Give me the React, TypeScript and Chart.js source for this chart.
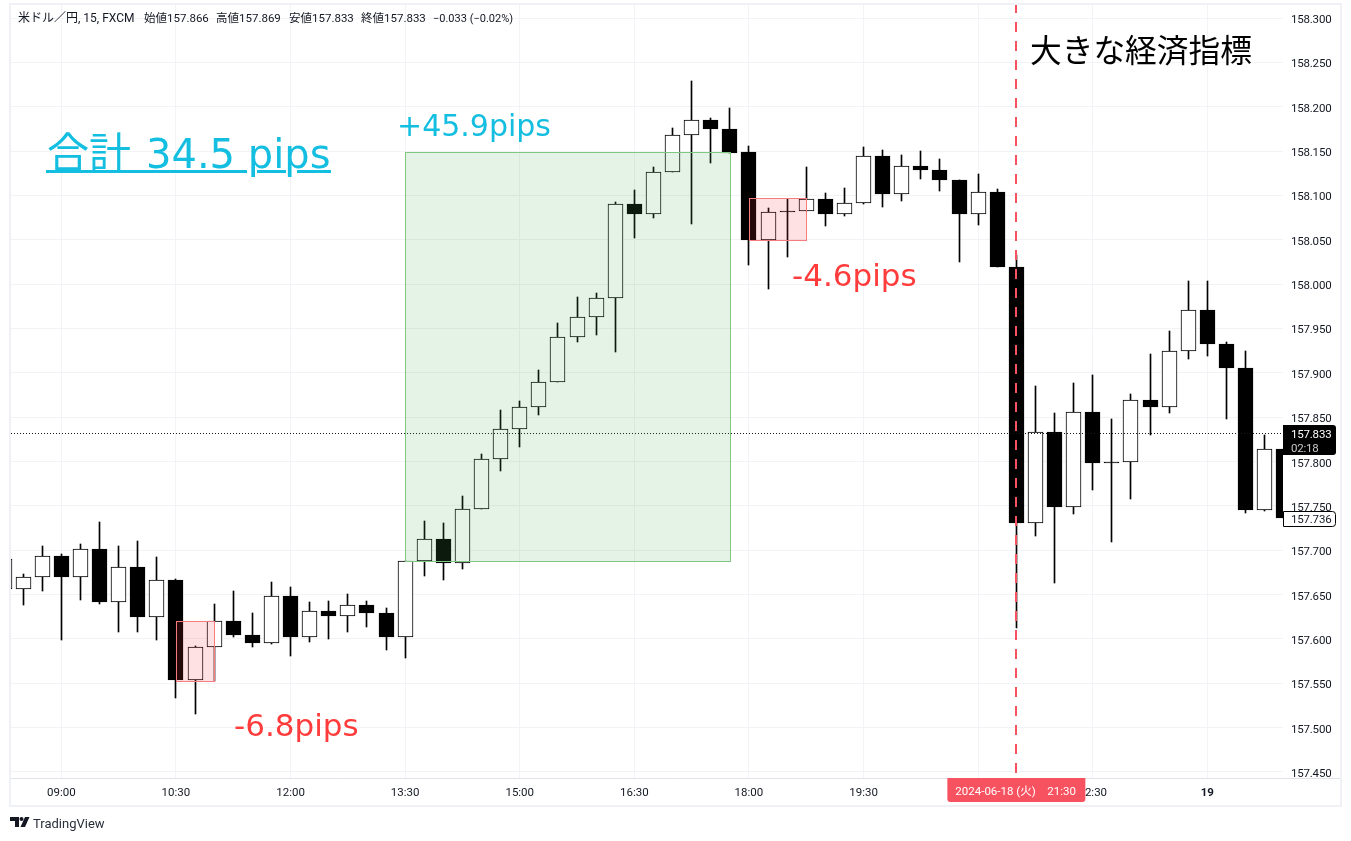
import { useEffect, useRef } from 'react';
import { Chart, registerables } from 'chart.js';

Chart.register(...registerables);

const barTimes = [
  '08:15', '08:30', '08:45', '09:00', '09:15', '09:30', '09:45', '10:00', '10:15', '10:30', '10:45', '11:00',
  '11:15', '11:30', '11:45', '12:00', '12:15', '12:30', '12:45', '13:00', '13:15', '13:30', '13:45', '14:00',
  '14:15', '14:30', '14:45', '15:00', '15:15', '15:30', '15:45', '16:00', '16:15', '16:30', '16:45', '17:00',
  '17:15', '17:30', '17:45', '18:00', '18:15', '18:30', '18:45', '19:00', '19:15', '19:30', '19:45', '20:00',
  '20:15', '20:30', '20:45', '21:00', '21:15', '21:30', '21:45', '22:00', '22:15', '22:30', '22:45', '23:00',
  '23:15', '23:30', '23:45', '00:00', '00:15', '00:30', '00:45', '01:00',
];

const opens = [
  157.656, 157.656, 157.670, 157.694, 157.670, 157.701, 157.642, 157.681, 157.625, 157.666, 157.554, 157.591,
  157.620, 157.604, 157.595, 157.648, 157.602, 157.632, 157.626, 157.638, 157.629, 157.602, 157.688, 157.713,
  157.686, 157.746, 157.803, 157.837, 157.861, 157.890, 157.940, 157.963, 157.984, 158.090, 158.079, 158.126,
  158.168, 158.185, 158.175, 158.149, 158.050, 158.082, 158.082, 158.096, 158.079, 158.092, 158.145, 158.102,
  158.133, 158.129, 158.117, 158.079, 158.104, 158.019, 157.731, 157.833, 157.749, 157.856, 157.799, 157.799,
  157.869, 157.861, 157.925, 157.971, 157.933, 157.906, 157.745, 157.814,
];
const highs = [
  157.696, 157.673, 157.705, 157.696, 157.707, 157.732, 157.705, 157.710, 157.692, 157.667, 157.592, 157.639,
  157.654, 157.629, 157.664, 157.659, 157.642, 157.643, 157.651, 157.643, 157.635, 157.688, 157.733, 157.731,
  157.761, 157.809, 157.858, 157.868, 157.903, 157.956, 157.986, 157.990, 158.093, 158.106, 158.132, 158.176,
  158.229, 158.187, 158.199, 158.156, 158.086, 158.096, 158.132, 158.103, 158.108, 158.155, 158.151, 158.146,
  158.150, 158.141, 158.117, 158.124, 158.107, 158.033, 157.885, 157.855, 157.889, 157.898, 157.848, 157.876,
  157.921, 157.947, 158.004, 158.004, 157.935, 157.925, 157.830, 157.814,
];
const lows = [
  157.650, 157.638, 157.654, 157.599, 157.644, 157.639, 157.608, 157.608, 157.599, 157.533, 157.515, 157.552,
  157.602, 157.591, 157.594, 157.581, 157.596, 157.600, 157.608, 157.614, 157.588, 157.579, 157.671, 157.666,
  157.679, 157.746, 157.789, 157.816, 157.853, 157.890, 157.935, 157.943, 157.924, 158.052, 158.075, 158.126,
  158.068, 158.137, 158.148, 158.022, 157.995, 158.031, 158.082, 158.066, 158.077, 158.090, 158.087, 158.094,
  158.119, 158.105, 158.025, 158.067, 158.019, 157.612, 157.716, 157.663, 157.741, 157.768, 157.709, 157.758,
  157.830, 157.855, 157.916, 157.919, 157.848, 157.742, 157.744, 157.736,
];
const closes = [
  157.690, 157.670, 157.694, 157.670, 157.701, 157.642, 157.681, 157.625, 157.666, 157.554, 157.591, 157.620,
  157.604, 157.595, 157.648, 157.602, 157.632, 157.626, 157.638, 157.629, 157.602, 157.688, 157.713, 157.686,
  157.746, 157.803, 157.837, 157.861, 157.890, 157.940, 157.963, 157.984, 158.090, 158.079, 158.126, 158.168,
  158.185, 158.175, 158.148, 158.050, 158.081, 158.082, 158.096, 158.079, 158.092, 158.145, 158.102, 158.133,
  158.129, 158.117, 158.079, 158.104, 158.019, 157.731, 157.833, 157.749, 157.856, 157.798, 157.799, 157.869,
  157.861, 157.925, 157.971, 157.933, 157.906, 157.745, 157.814, 157.736,
];

const priceTicks = [
  157.45, 157.5, 157.55, 157.6, 157.65, 157.7, 157.75, 157.8, 157.85, 157.9, 157.95, 158.0, 158.05, 158.1, 158.15,
  158.2, 158.25, 158.3,
];
const timeTicks = ['09:00', '10:30', '12:00', '13:30', '15:00', '16:30', '18:00', '19:30', '21:00', '22:30', '00:00'];

const zoneFrom = ['10:30', '13:30', '18:00'];
const zoneTo = ['11:00', '17:45', '18:45'];
const zoneHigh = [157.62, 158.149, 158.097];
const zoneLow = [157.552, 157.688, 158.05];

const lastPrice = 157.833;
const lastClose = 157.736;
const crosshairTime = '21:30';

const UI_FONT = 'Roboto, "Noto Sans CJK JP", sans-serif';
const NOTE_FONT = '"DejaVu Sans", "Noto Sans CJK JP", sans-serif';
const INK = '#131722';
const CYAN = '#14bee0';
const RED = '#ff3b3b';
const FRAME = '#eff1f6';
const GRID = '#f2f3f6';
const CROSS = '#f7525f';

const idx = (time: string) => barTimes.indexOf(time);

function note(ctx: CanvasRenderingContext2D, text: string, x: number, y: number, font: string, color: string) {
  ctx.font = font;
  ctx.fillStyle = color;
  ctx.textAlign = 'left';
  ctx.textBaseline = 'alphabetic';
  ctx.fillText(text, x, y);
}

// bars land on whole pixels like the original, otherwise the wicks get blurry
const snapBars = {
  id: 'snapBars',
  beforeDatasetsDraw(chart: any) {
    chart.getSortedVisibleDatasetMetas().forEach((meta: any) => {
      meta.data.forEach((bar: any) => {
        bar.x = Math.round(bar.x - 0.5) + 0.5;
        const top = Math.round(Math.min(bar.y, bar.base));
        const bottom = Math.max(Math.round(Math.max(bar.y, bar.base)), top + 1);
        bar.y = top;
        bar.base = bottom;
      });
    });
  },
};

const overlays = {
  id: 'overlays',
  beforeDraw(chart: any) {
    const { ctx } = chart;
    ctx.save();
    ctx.fillStyle = '#ffffff';
    ctx.fillRect(0, 0, chart.width, chart.height);
    ctx.strokeStyle = FRAME;
    ctx.lineWidth = 2;
    ctx.strokeRect(10, 4, 1331, 802);
    ctx.lineWidth = 1;
    ctx.strokeStyle = '#e0e3eb';
    ctx.beginPath();
    ctx.moveTo(11, 778.5);
    ctx.lineTo(1340, 778.5);
    ctx.stroke();
    ctx.restore();
  },
  afterDatasetsDraw(chart: any) {
    const { ctx, chartArea, scales } = chart;
    const { x, y } = scales;
    ctx.save();
    ctx.beginPath();
    ctx.rect(chartArea.left, chartArea.top, chartArea.width, chartArea.height);
    ctx.clip();

    // last price line
    const lastY = Math.ceil(y.getPixelForValue(lastPrice)) + 0.5;
    ctx.strokeStyle = INK;
    ctx.lineWidth = 1;
    ctx.setLineDash([1, 2]);
    ctx.beginPath();
    ctx.moveTo(chartArea.left, lastY);
    ctx.lineTo(chartArea.right, lastY);
    ctx.stroke();
    ctx.setLineDash([]);

    zoneFrom.forEach((from, i) => {
      const left = Math.round(x.getPixelForValue(idx(from))) + 0.5;
      const right = Math.round(x.getPixelForValue(idx(zoneTo[i]))) + 0.5;
      const top = Math.round(y.getPixelForValue(zoneHigh[i])) + 0.5;
      const bottom = Math.round(y.getPixelForValue(zoneLow[i])) + 0.5;
      const win = zoneLow[i] === 157.688;
      ctx.fillStyle = win ? 'rgba(76, 175, 80, 0.15)' : 'rgba(242, 54, 69, 0.15)';
      ctx.strokeStyle = win ? '#81c784' : '#f77c80';
      ctx.fillRect(left, top, right - left, bottom - top);
      ctx.strokeRect(left, top, right - left, bottom - top);
    });

    // crosshair
    const crossX = Math.round(x.getPixelForValue(idx(crosshairTime)));
    ctx.strokeStyle = CROSS;
    ctx.lineWidth = 2;
    ctx.setLineDash([10, 9]);
    ctx.beginPath();
    ctx.moveTo(crossX, chartArea.top - 2);
    ctx.lineTo(crossX, chartArea.bottom);
    ctx.stroke();
    ctx.setLineDash([]);
    ctx.restore();

    ctx.save();
    note(ctx, '合計', 47, 168, `42px ${NOTE_FONT}`, CYAN);
    note(ctx, '34.5 pips', 146, 168, `40px ${NOTE_FONT}`, CYAN);
    // underline skips the p descenders
    ctx.fillStyle = CYAN;
    ctx.fillRect(46, 170, 201, 3);
    ctx.fillRect(257, 170, 29, 3);
    ctx.fillRect(297, 170, 34, 3);
    note(ctx, '+45.9pips', 397, 136, `30px ${NOTE_FONT}`, CYAN);
    note(ctx, '-4.6pips', 792, 286, `31px ${NOTE_FONT}`, RED);
    note(ctx, '-6.8pips', 234, 736, `31px ${NOTE_FONT}`, RED);
    note(ctx, '大きな経済指標', 1030, 62, `31.7px ${NOTE_FONT}`, '#000000');
    ctx.restore();
  },
  afterDraw(chart: any) {
    const { ctx, chartArea, scales } = chart;
    const { x, y } = scales;
    ctx.save();

    note(ctx, '米ドル／円, 15, FXCM', 18, 22, `12px ${UI_FONT}`, INK);
    note(ctx, '始値157.866', 144, 22, `11.5px ${UI_FONT}`, INK);
    note(ctx, '高値157.869', 216, 22, `11.5px ${UI_FONT}`, INK);
    note(ctx, '安値157.833', 289, 22, `11.5px ${UI_FONT}`, INK);
    note(ctx, '終値157.833', 361, 22, `11.5px ${UI_FONT}`, INK);
    note(ctx, '−0.033 (−0.02%)', 433, 22, `11px ${UI_FONT}`, INK);

    const right = chartArea.right;

    // price ticks, drawn here since the axis can't nudge its labels below the grid line
    ctx.letterSpacing = '-0.2px';
    priceTicks.forEach(tick => {
      const tickY = Math.round(y.getPixelForValue(tick));
      note(ctx, tick.toFixed(3), right + 8, tickY + 5, `11.5px ${UI_FONT}`, INK);
    });

    // price axis labels
    const lastY = Math.ceil(y.getPixelForValue(lastPrice));
    ctx.fillStyle = '#000000';
    ctx.beginPath();
    ctx.roundRect(right, lastY - 8, 53, 30, [0, 3, 3, 0]);
    ctx.fill();
    note(ctx, lastPrice.toFixed(3), right + 8, lastY + 5, `11.5px ${UI_FONT}`, '#ffffff');
    note(ctx, '02:18', right + 8, lastY + 19, `11.5px ${UI_FONT}`, '#c8c8c8');

    const closeY = Math.round(y.getPixelForValue(lastClose));
    ctx.fillStyle = '#ffffff';
    ctx.strokeStyle = '#000000';
    ctx.lineWidth = 1;
    ctx.beginPath();
    ctx.roundRect(right + 0.5, closeY - 6.5, 52, 15, [0, 3, 3, 0]);
    ctx.fill();
    ctx.stroke();
    note(ctx, lastClose.toFixed(3), right + 8, closeY + 5, `11.5px ${UI_FONT}`, INK);
    ctx.letterSpacing = '0px';

    // crosshair time label
    const crossX = x.getPixelForValue(idx(crosshairTime));
    ctx.fillStyle = CROSS;
    ctx.beginPath();
    ctx.roundRect(crossX - 69, chartArea.bottom, 138, 24, [0, 0, 3, 3]);
    ctx.fill();
    note(ctx, '2024-06-18 (火)', crossX - 61, chartArea.bottom + 17, `11.5px ${UI_FONT}`, '#ffffff');
    note(ctx, '21:30', crossX + 31, chartArea.bottom + 17, `11.5px ${UI_FONT}`, '#ffffff');

    // TradingView mark
    ctx.fillStyle = INK;
    ctx.fillRect(10, 817, 9, 4);
    ctx.fillRect(15, 817, 4, 10);
    ctx.beginPath();
    ctx.arc(21.5, 819, 2, 0, Math.PI * 2);
    ctx.fill();
    ctx.beginPath();
    ctx.moveTo(25, 817);
    ctx.lineTo(29.5, 817);
    ctx.lineTo(25, 827);
    ctx.lineTo(20.5, 827);
    ctx.closePath();
    ctx.fill();
    note(ctx, 'TradingView', 33, 828, `13px ${UI_FONT}`, '#2a2e39');
    ctx.restore();
  },
};

export default function App() {
  const canvasRef = useRef<HTMLCanvasElement>(null);

  useEffect(() => {
    if (!canvasRef.current) return;
    document.body.style.margin = '0';

    const bodyColors = opens.map((open, i) => (closes[i] > open ? '#ffffff' : '#000000'));

    const chart = new Chart(canvasRef.current, {
      type: 'bar',
      data: {
        datasets: [
          {
            label: 'body',
            order: 1,
            clip: 0,
            grouped: false,
            barThickness: 15,
            data: opens.map((open, i) => ({ x: i, y: [open, closes[i]] })) as any,
            backgroundColor: bodyColors,
            borderColor: '#000000',
            borderWidth: 1,
            borderSkipped: false,
          },
          {
            label: 'wick',
            order: 2,
            clip: 0,
            grouped: false,
            barThickness: 1,
            data: lows.map((low, i) => ({ x: i, y: [low, highs[i]] })) as any,
            backgroundColor: '#000000',
            borderWidth: 0,
          },
        ] as any,
      },
      options: {
        responsive: false,
        animation: false,
        layout: { padding: { left: 11, right: 10, top: 5, bottom: 35 } },
        plugins: { legend: { display: false }, tooltip: { enabled: false } },
        scales: {
          x: {
            type: 'linear',
            offset: false,
            min: 0.366,
            max: 66.96,
            grid: { color: GRID, offset: false, drawTicks: false },
            border: { display: false },
            afterBuildTicks: (scale: any) => {
              scale.ticks = timeTicks.map(time => ({ value: idx(time) }));
            },
            afterFit: (scale: any) => {
              scale.height = 28;
              scale.paddingLeft = 0;
              scale.paddingRight = 0;
            },
            ticks: {
              autoSkip: false,
              maxRotation: 0,
              minRotation: 0,
              padding: 8,
              color: INK,
              font: (c: any) => ({
                family: UI_FONT,
                size: 11.5,
                weight: barTimes[c.tick?.value] === '00:00' ? 'bold' : 'normal',
              }),
              callback: (value: any) => (barTimes[value] === '00:00' ? '19' : barTimes[value]),
            },
          },
          y: {
            type: 'linear',
            position: 'right',
            min: 157.4432,
            max: 158.3147,
            grid: { color: GRID, drawTicks: false },
            border: { display: false },
            afterBuildTicks: (scale: any) => {
              scale.ticks = priceTicks.map(value => ({ value }));
            },
            afterFit: (scale: any) => {
              scale.width = 58;
              scale.paddingTop = 0;
              scale.paddingBottom = 0;
            },
            ticks: { display: false },
          },
        },
      } as any,
      plugins: [snapBars, overlays],
    });

    return () => chart.destroy();
  }, []);

  return (
    <div style={{ width: 1351, height: 841 }}>
      <canvas ref={canvasRef} width={1351} height={841} style={{ display: 'block' }} />
    </div>
  );
}
